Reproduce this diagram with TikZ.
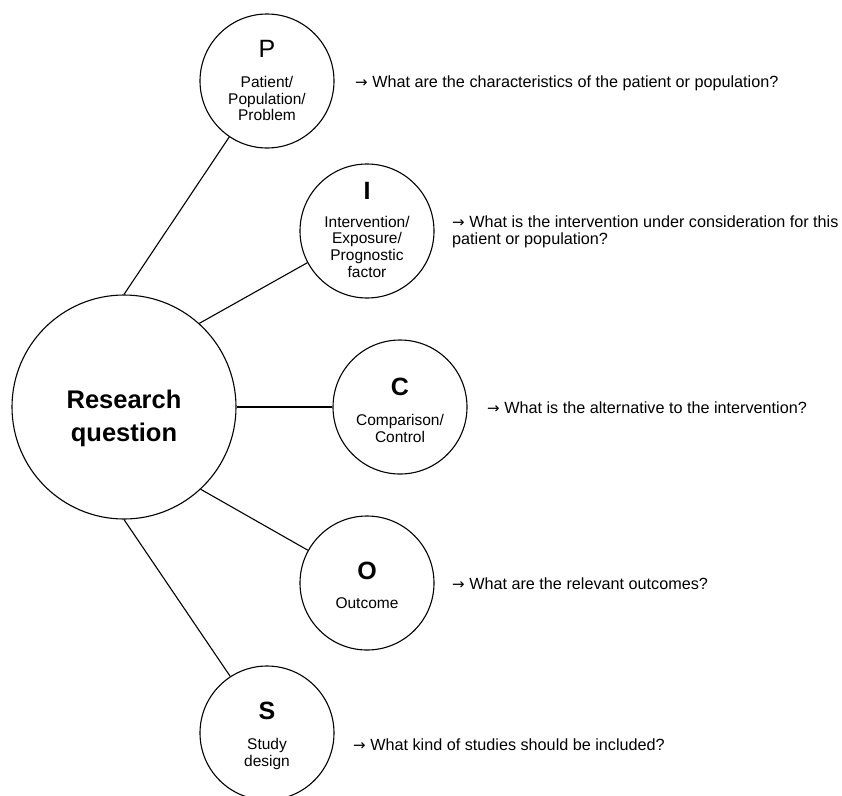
\documentclass[tikz,border=0pt]{standalone}
\usepackage{fontspec}
\setmainfont{Liberation Sans}
\newfontfamily\arrowfont{DejaVu Sans}
\begin{document}
\begin{tikzpicture}[x=1pt,y=-1pt,
  small/.style={draw,circle,minimum size=134pt,inner sep=0pt,line width=1.1pt},
  big/.style={draw,circle,minimum size=224pt,inner sep=0pt,line width=1.1pt},
  sub/.style={anchor=north,inner sep=0pt,align=center,font=\fontsize{15.5}{16.7}\selectfont},
  bigtext/.style={inner sep=0pt,align=center,font=\fontsize{25.5}{33}\selectfont\bfseries},
  question/.style={inner sep=0pt,align=left,font=\fontsize{16.2}{17}\selectfont},
  link/.style={line width=1.1pt}]
\useasboundingbox (0,0) rectangle (842,795);
\newcommand{\letterP}[1]{{\fontsize{25}{30}\selectfont #1}}
\newcommand{\letterB}[1]{{\fontsize{25}{30}\selectfont\bfseries #1}}
\newcommand{\rarr}{{\arrowfont\fontsize{15}{17}\selectfont →}}
% circles
\node[big] (R) at (124,407) {};
\node[bigtext] (Rt) at (124,418) {Research\\question};
\node[small] (P) at (267,81) {};
\node[small] (I) at (367,231) {};
\node[small] (C) at (400,407) {};
\node[small] (O) at (367,583) {};
\node[small] (S) at (267,733) {};
% circle texts
\node[sub] (Pt) at (267,40) {\letterP{P}\\[13.3pt]Patient/\\Population/\\Problem};
\node[sub] (It) at (367,181.7) {\letterB{I}\\[11.3pt]Intervention/\\Exposure/\\Prognostic\\factor};
\node[sub] (Ct) at (400,377.7) {\letterB{C}\\[13.3pt]Comparison/\\Control};
\node[sub] (Ot) at (367,561.7) {\letterB{O}\\[12.3pt]Outcome};
\node[sub] (St) at (267,701.7) {\letterB{S}\\[13.3pt]Study\\design};
% connectors
\draw[link] (R.90) -- (P.236.3);
\draw[link] (R.48.6) -- (I.208.5);
\draw[link] (R.0) -- (C.180);
\draw[link] (R.-47.6) -- (O.151.5);
\draw[link] (R.270) -- (S.123.7);
% questions
\node[question,anchor=base west] (Pq) at (355,87.5) {\rarr{} What are the characteristics of the patient or population?};
\node[question,anchor=west] (Iq) at (452,231.5) {\rarr{} What is the intervention under consideration for this\\patient or population?};
\node[question,anchor=base west] (Cq) at (487,413) {\rarr{} What is the alternative to the intervention?};
\node[question,anchor=base west] (Oq) at (452,589) {\rarr{} What are the relevant outcomes?};
\node[question,anchor=base west] (Sq) at (353,750) {\rarr{} What kind of studies should be included?};
\end{tikzpicture}
\end{document}
